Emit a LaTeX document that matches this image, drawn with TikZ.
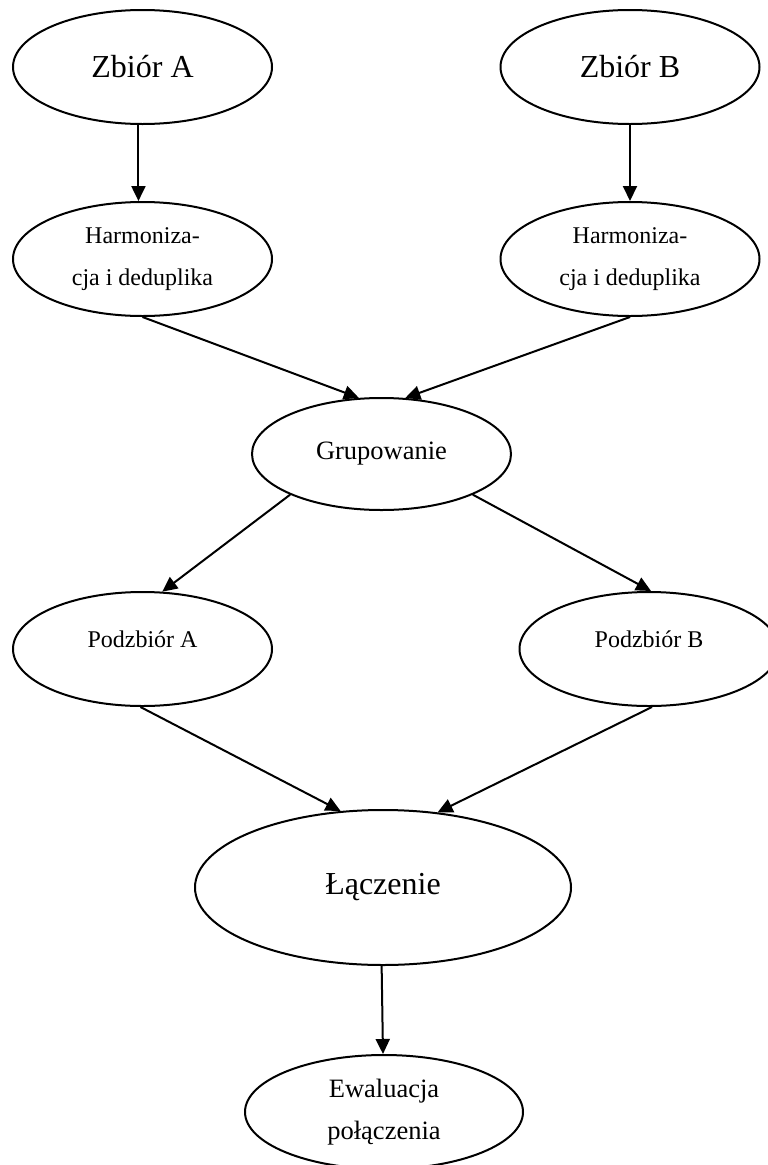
\documentclass[tikz,border=0pt]{standalone}
\usepackage{fontspec}
\setmainfont{Liberation Serif}
\usetikzlibrary{shapes.geometric,arrows.meta}
\begin{document}
\begin{tikzpicture}[x=1pt,y=-1pt,
  oval/.style={ellipse, draw, line width=2pt, inner sep=0pt,
    minimum width=259pt, minimum height=114pt, align=center},
  big/.style={font=\fontsize{32}{42}\selectfont},
  mid/.style={font=\fontsize{26.5}{42}\selectfont},
  small/.style={font=\fontsize{24}{42}\selectfont},
  upper/.style={text height=16pt, text depth=20pt},
  flow/.style={line width=2pt, -{Triangle[length=15pt,width=14pt]}}
]
\useasboundingbox (0,0) rectangle (768,1165);

% input sets
\node[oval,big] (zA) at (142.5,67) {Zbiór A};
\node[oval,big] (zB) at (630,67) {Zbiór B};

% harmonisation and deduplication
\node[oval,small] (hA) at (142.5,259) {Harmoniza-\\cja i deduplika};
\node[oval,small] (hB) at (630,259) {Harmoniza-\\cja i deduplika};

% grouping
\node[oval,mid,minimum height=112pt] (grp) at (381.5,454) {Grupowanie};

% subsets
\node[oval,small,upper] (pA) at (142.5,649) {Podzbiór A};
\node[oval,small,upper] (pB) at (649,649) {Podzbiór B};

% merging and evaluation
\node[oval,big,minimum width=376pt,minimum height=155pt] (lac) at (383,887.5) {Łączenie};
\node[oval,mid,minimum width=278pt] (ewa) at (384,1112) {Ewaluacja\\połączenia};

% connectors
\draw[flow] (zA.-94) -- (hA.94);
\draw[flow] (zB.south) -- (hB.north);
\draw[flow] (hA.south) -- (grp.112.8);
\draw[flow] (hB.south) -- (grp.67.5);
\draw[flow] (grp.204) -- (pA.71);
\draw[flow] (grp.-24) -- (pB.88);
\draw[flow] (pA.-92) -- (lac.119);
\draw[flow] (pB.-87) -- (lac.54);
\draw[flow] (lac.-91.5) -- (ewa.91.5);
\end{tikzpicture}
\end{document}
